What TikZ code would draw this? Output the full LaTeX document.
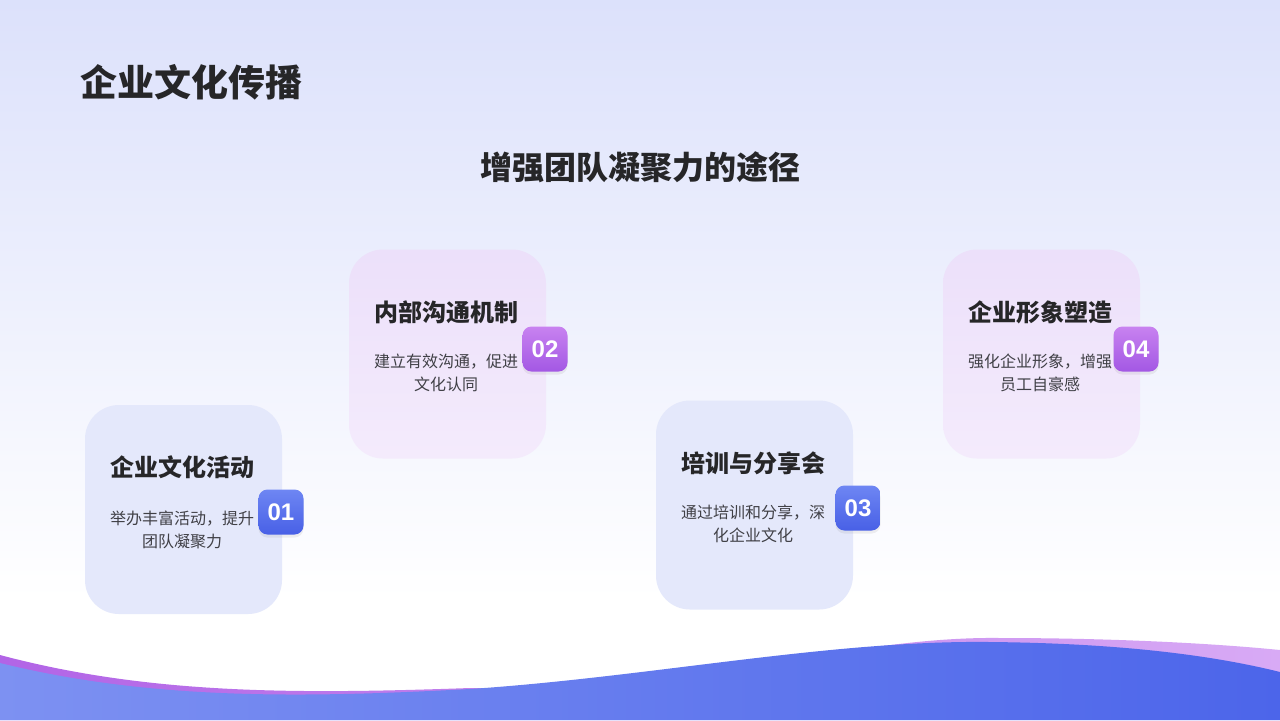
\documentclass[tikz,border=0pt]{standalone}
\usepackage{fontspec}
\setmainfont{Noto Sans CJK SC}
\newfontfamily\numfont{Liberation Sans}
\usetikzlibrary{positioning,shadows}

\definecolor{bgtop}{RGB}{220,225,251}
\definecolor{titlegray}{RGB}{38,38,40}
\definecolor{descgray}{RGB}{64,64,70}
\definecolor{cardblue}{RGB}{228,232,251}
\definecolor{cardlilacA}{RGB}{236,224,250}
\definecolor{cardlilacB}{RGB}{244,235,252}
\definecolor{badgeblueA}{RGB}{110,134,243}
\definecolor{badgeblueB}{RGB}{72,96,230}
\definecolor{badgepurpA}{RGB}{200,130,240}
\definecolor{badgepurpB}{RGB}{163,88,228}
\definecolor{waveblueL}{RGB}{125,145,242}
\definecolor{waveblueR}{RGB}{76,101,234}
\definecolor{wavepurpL}{RGB}{178,100,230}
\definecolor{wavepurpR}{RGB}{216,170,245}

\tikzset{
  card/.style={rounded corners=17pt, minimum width=98.5pt, minimum height=104.5pt, inner sep=0pt},
  badge/.style={rounded corners=4.5pt, minimum size=22.5pt, inner sep=0pt, text=white,
    font=\numfont\bfseries\fontsize{12}{12}\selectfont,
    drop shadow={opacity=0.12, shadow xshift=0pt, shadow yshift=-1.5pt}},
  cardtitle/.style={inner sep=0pt, text=titlegray, font=\bfseries\fontsize{12}{14}\selectfont},
  carddesc/.style={inner sep=0pt, text=descgray, align=center, font=\fontsize{8}{11.5}\selectfont},
}

\begin{document}
\begin{tikzpicture}[x=0.5pt, y=-0.5pt]
    \useasboundingbox (0,0) rectangle (1280,720);

    % Background
    \fill[white] (0,0) rectangle (1280,720);
    \shade[top color=bgtop, bottom color=white] (0,0) rectangle (1280,600);

    % Headings
    \node[anchor=west, inner sep=0pt, text=titlegray, font=\bfseries\fontsize{18.5}{20}\selectfont] (title) at (80,82) {企业文化传播};
    \node[inner sep=0pt, text=titlegray, font=\bfseries\fontsize{16}{18}\selectfont] (subtitle) at (640,167) {增强团队凝聚力的途径};

    % Cards
    \node[card, fill=cardblue] (c1) at (183.5,509.5) {};
    \node[card, top color=cardlilacA, bottom color=cardlilacB] (c2) at (447.5,354) {};
    \node[card, fill=cardblue] (c3) at (754.5,505) {};
    \node[card, top color=cardlilacA, bottom color=cardlilacB] (c4) at (1041.5,354) {};

    % Card texts
    \node[cardtitle] (t1) at (182,467) {企业文化活动};
    \node[carddesc] (d1) at (182,529.5) {举办丰富活动，提升\\团队凝聚力};
    \node[cardtitle] (t2) at (446,312) {内部沟通机制};
    \node[carddesc] (d2) at (446,372.5) {建立有效沟通，促进\\文化认同};
    \node[cardtitle] (t3) at (753,463) {培训与分享会};
    \node[carddesc] (d3) at (753,524) {通过培训和分享，深\\化企业文化};
    \node[cardtitle] (t4) at (1040,312) {企业形象塑造};
    \node[carddesc] (d4) at (1040,372.5) {强化企业形象，增强\\员工自豪感};

    % Number badges
    \node[badge, top color=badgeblueA, bottom color=badgeblueB] (b1) at (281,512) {01};
    \node[badge, top color=badgepurpA, bottom color=badgepurpB] (b2) at (545,349) {02};
    \node[badge, top color=badgeblueA, bottom color=badgeblueB] (b3) at (858,508) {03};
    \node[badge, top color=badgepurpA, bottom color=badgepurpB] (b4) at (1136,349) {04};

    % Bottom wave
    \shade[left color=wavepurpL, right color=wavepurpR]
      (0,655) .. controls (150,695) and (300,694) .. (470,688)
      .. controls (700,692) and (850,636) .. (1000,638)
      .. controls (1120,638) and (1220,644) .. (1280,650)
      -- (1280,720) -- (0,720) -- cycle;
    \shade[left color=waveblueL, right color=waveblueR]
      (0,663) .. controls (150,700) and (300,698) .. (470,689)
      .. controls (650,677) and (830,640) .. (990,642)
      .. controls (1100,643) and (1200,652) .. (1280,672)
      -- (1280,720) -- (0,720) -- cycle;
\end{tikzpicture}
\end{document}
